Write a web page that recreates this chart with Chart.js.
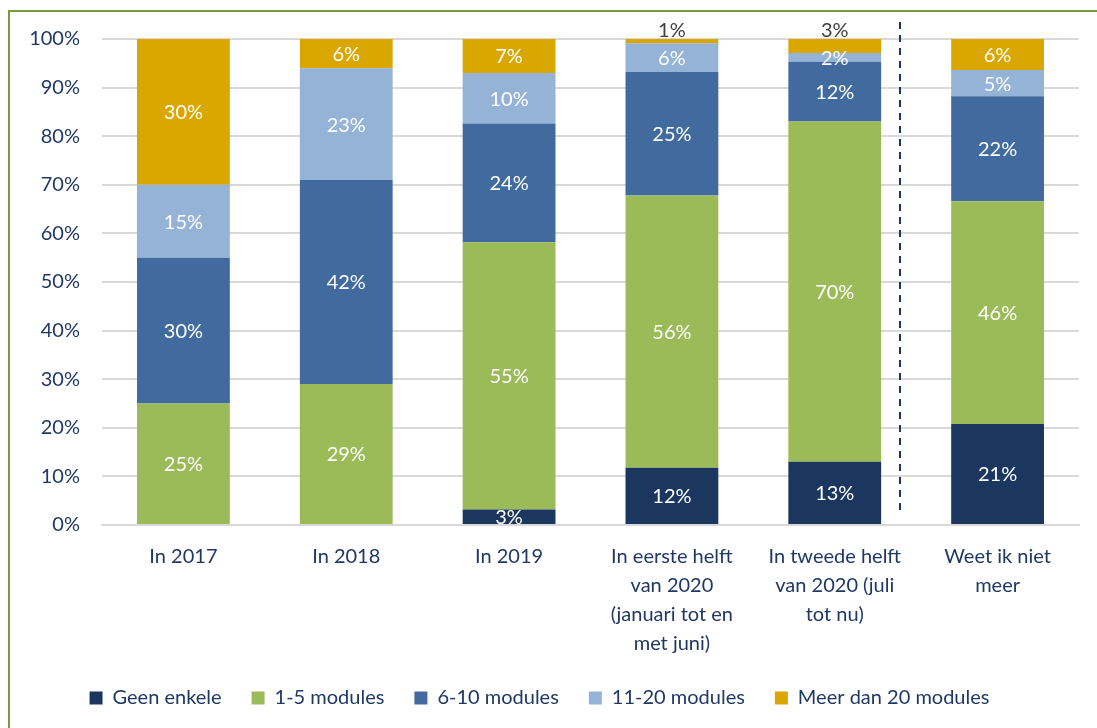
<!DOCTYPE html>
<html>
<head>
<meta charset="utf-8">
<script src="https://cdn.jsdelivr.net/npm/chart.js@4.4.0/dist/chart.umd.min.js"></script>
<style>
  html, body { margin: 0; padding: 0; background: #fff; }
  body { width: 1097px; height: 728px; overflow: hidden; position: relative; }
  .frame { position: absolute; left: 8px; top: 10px; width: 1200px; height: 800px; border: 2px solid #7B9A3F; box-sizing: border-box; }
  #wrap { position: absolute; left: 0; top: 0; width: 1097px; height: 728px; }
</style>
</head>
<body>
<div class="frame"></div>
<div id="wrap"><canvas id="chart"></canvas></div>
<script>
// categories (multi-line labels)
const categories = [
  ['In 2017'],
  ['In 2018'],
  ['In 2019'],
  ['In eerste helft', 'van 2020', '(januari tot en', 'met juni)'],
  ['In tweede helft', 'van 2020 (juli', 'tot nu)'],
  ['Weet ik niet', 'meer']
];
const seriesNames = ['Geen enkele', '1-5 modules', '6-10 modules', '11-20 modules', 'Meer dan 20 modules'];

// shares in %
const geenEnkele    = [0,  0,  3.2,  11.8, 13.0, 20.8];
const modules1to5   = [25, 29, 55.0, 56.0, 70.0, 45.8];
const modules6to10  = [30, 42, 24.4, 25.4, 12.3, 21.6];
const modules11to20 = [15, 23, 10.4, 5.9,  1.8,  5.4];
const modulesOver20 = [30, 6,  7.0,  0.9,  2.9,  6.4];

const yTicks = [0, 10, 20, 30, 40, 50, 60, 70, 80, 90, 100];

const colors = ['#1C375F', '#9BBB59', '#416B9F', '#95B3D7', '#DAA700'];
const navy = '#1F3864';
const FONT = 'Lato';
const FS = 20;

// value labels inside the segments (small top segments go above the bar)
const segmentLabels = {
  id: 'segmentLabels',
  afterDatasetsDraw(chart) {
    const ctx = chart.ctx;
    const last = chart.data.datasets.length - 1;
    ctx.save();
    ctx.font = FS + 'px ' + FONT;
    ctx.textAlign = 'center';
    ctx.textBaseline = 'middle';
    chart.data.datasets.forEach((ds, i) => {
      chart.getDatasetMeta(i).data.forEach((bar, j) => {
        const v = ds.data[j];
        if (!v) return;
        const txt = Math.round(v) + '%';
        if (i === last && v < 4) {
          ctx.fillStyle = '#404040';
          ctx.fillText(txt, bar.x, bar.y - 8);
        } else {
          ctx.fillStyle = '#fff';
          ctx.fillText(txt, bar.x, (bar.y + bar.base) / 2 + 1);
        }
      });
    });
    ctx.restore();
  }
};

// dashed separator before "Weet ik niet meer"
const divider = {
  id: 'divider',
  afterDatasetsDraw(chart) {
    const ctx = chart.ctx;
    const x = Math.round(chart.scales.x.getPixelForValue(4.4));
    const y0 = chart.scales.y.getPixelForValue(103.5);
    const y1 = chart.scales.y.getPixelForValue(2);
    ctx.save();
    ctx.strokeStyle = '#1C375F';
    ctx.lineWidth = 2;
    ctx.setLineDash([7, 6]);
    ctx.beginPath();
    ctx.moveTo(x, y0);
    ctx.lineTo(x, y1);
    ctx.stroke();
    ctx.restore();
  }
};

const seriesData = [geenEnkele, modules1to5, modules6to10, modules11to20, modulesOver20];

new Chart(document.getElementById('chart'), {
  type: 'bar',
  data: {
    labels: categories,
    datasets: seriesNames.map((name, i) => ({
      label: name,
      data: seriesData[i],
      backgroundColor: colors[i],
      borderWidth: 0,
      barPercentage: 0.57,
      categoryPercentage: 1
    }))
  },
  options: {
    responsive: true,
    maintainAspectRatio: false,
    animation: false,
    layout: { padding: { top: 39, right: 18, left: 0, bottom: 10 } },
    plugins: {
      tooltip: { enabled: false },
      legend: {
        position: 'bottom',
        labels: {
          boxWidth: 13,
          boxHeight: 13,
          padding: 30,
          color: navy,
          font: { family: FONT, size: FS }
        }
      }
    },
    scales: {
      x: {
        stacked: true,
        grid: { display: false, drawTicks: false },
        border: { color: '#D9D9D9', width: 2 },
        ticks: {
          color: navy,
          padding: 17,
          maxRotation: 0,
          autoSkip: false,
          font: { family: FONT, size: FS, lineHeight: 1.45 }
        },
        afterFit(scale) { scale.height = 133; }
      },
      y: {
        stacked: true,
        min: 0,
        max: 100,
        afterBuildTicks(scale) { scale.ticks = yTicks.map(v => ({ value: v })); },
        grid: { color: '#D9D9D9', lineWidth: 2, drawTicks: false },
        border: { display: false },
        ticks: {
          color: navy,
          padding: 22,
          font: { family: FONT, size: FS },
          callback: v => v + '%'
        },
        afterFit(scale) { scale.width = 102; }
      }
    }
  },
  plugins: [segmentLabels, divider]
});
</script>
</body>
</html>
